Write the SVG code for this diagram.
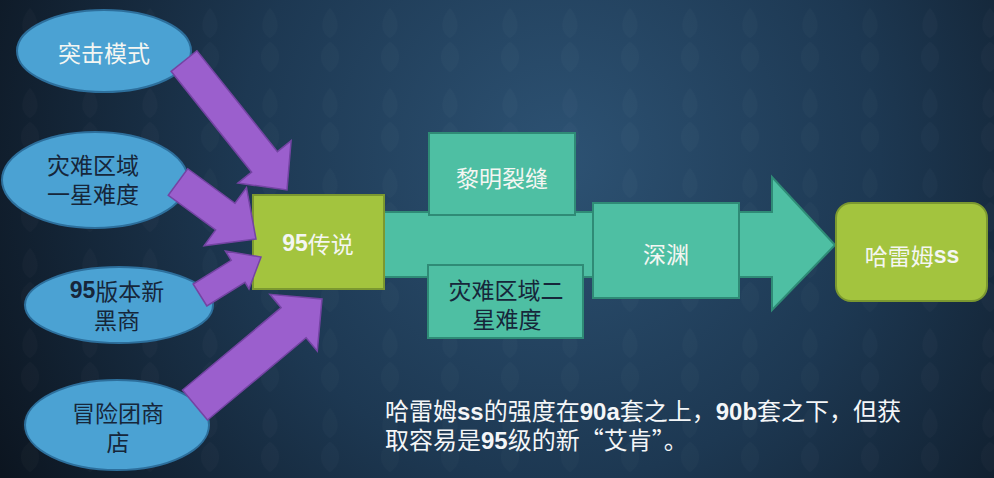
<svg xmlns="http://www.w3.org/2000/svg" width="994" height="478" viewBox="0 0 994 478">
<defs>
<radialGradient id="bg" cx="560" cy="160" r="640" gradientUnits="userSpaceOnUse">
<stop offset="0" stop-color="#2d5273"/>
<stop offset="0.5" stop-color="#1d3852"/>
<stop offset="1" stop-color="#0c1520"/>
</radialGradient>
<pattern id="damask" width="60" height="80" patternUnits="userSpaceOnUse">
<path d="M30 8 C40 20 40 32 30 38 C20 32 20 20 30 8 Z M30 42 C42 50 42 64 30 72 C18 64 18 50 30 42 Z" fill="#ffffff" fill-opacity="0.018"/>
</pattern>
<style>
.ell{fill:#4ba2d3;stroke:#2d6f9c;stroke-width:2}
.purple{fill:#9b5fcd;stroke:#7444a3;stroke-width:1.5}
.green{fill:#a3c43e;stroke:#7b9830;stroke-width:2}
.teal{fill:#4ebfa3;stroke:#2f8b76;stroke-width:2}
.t{font-family:"Noto Sans CJK SC","Liberation Sans",sans-serif;font-size:23px;text-anchor:middle;dominant-baseline:central}
.w{fill:#f4f6f2}
.d{fill:#16263a}
.b{font-family:"Liberation Sans",sans-serif;font-weight:bold}
.note{font-family:"Noto Sans CJK SC","Liberation Sans",sans-serif;font-size:24px;fill:#f4f6f8}
</style>
</defs>
<rect width="994" height="478" fill="url(#bg)"/>
<rect width="994" height="478" fill="url(#damask)"/>

<g id="node-tuji">
<ellipse class="ell" cx="104" cy="51" rx="87" ry="41"/>
<text class="t w" x="104" y="52">突击模式</text>
</g>
<g id="node-zainan1">
<ellipse class="ell" cx="95" cy="180" rx="93" ry="48"/>
<text class="t d" x="93" y="164">灾难区域</text>
<text class="t d" x="93" y="193">一星难度</text>
</g>
<g id="node-heishang">
<ellipse class="ell" cx="119" cy="305" rx="94" ry="38"/>
<text class="t d" x="117" y="290"><tspan class="b">95</tspan>版本新</text>
<text class="t d" x="117" y="319">黑商</text>
</g>
<g id="node-maoxian">
<ellipse class="ell" cx="117" cy="425" rx="92" ry="45"/>
<text class="t d" x="118" y="412">冒险团商</text>
<text class="t d" x="118" y="441">店</text>
</g>

<g id="node-main-arrow">
<polygon class="teal" points="384,212 772,212 772,177 835,245 772,310 772,277 384,277"/>
</g>

<g id="node-95">
<rect class="green" x="253" y="195" width="131" height="94"/>
<text class="t w" x="318" y="243"><tspan class="b">95</tspan>传说</text>
</g>

<g id="connectors">
<polygon class="purple" points="171.1,71.3 196.9,50.7 277.4,151.6 291.1,140.7 287,190 237.9,183.1 251.6,172.2"/>
<polygon class="purple" points="168.3,195.3 187.7,168.7 235,203.3 246.5,187.5 256,239 204.1,245.7 215.6,229.9"/>
<polygon class="purple" points="206.9,306 193.1,284 231.2,260.3 225.4,250.9 261,257 249,289 245,282.3"/>
<polygon class="purple" points="207.5,420 182.5,390 281.1,307.7 269.9,294.3 322,299 317.3,351.1 306.1,337.7"/>
</g>

<g id="node-liming">
<rect class="teal" x="429" y="133" width="146" height="82"/>
<text class="t w" x="502" y="177">黎明裂缝</text>
</g>
<g id="node-zainan2">
<rect class="teal" x="428" y="265" width="155" height="73"/>
<text class="t d" x="506" y="289">灾难区域二</text>
<text class="t d" x="507" y="318">星难度</text>
</g>
<g id="node-shenyuan">
<rect class="teal" x="593" y="203" width="146" height="95"/>
<text class="t w" x="666" y="253">深渊</text>
</g>
<g id="node-halemu">
<rect class="green" x="836" y="203" width="151" height="98" rx="15"/>
<text class="t w" x="912" y="255">哈雷姆<tspan class="b">ss</tspan></text>
</g>

<g id="note">
<text class="note" x="385" y="420">哈雷姆<tspan class="b">ss</tspan>的强度在<tspan class="b">90a</tspan>套之上，<tspan class="b">90b</tspan>套之下，但获</text>
<text class="note" x="385" y="449">取容易是<tspan class="b">95</tspan>级的新“艾肯”。</text>
</g>
</svg>
